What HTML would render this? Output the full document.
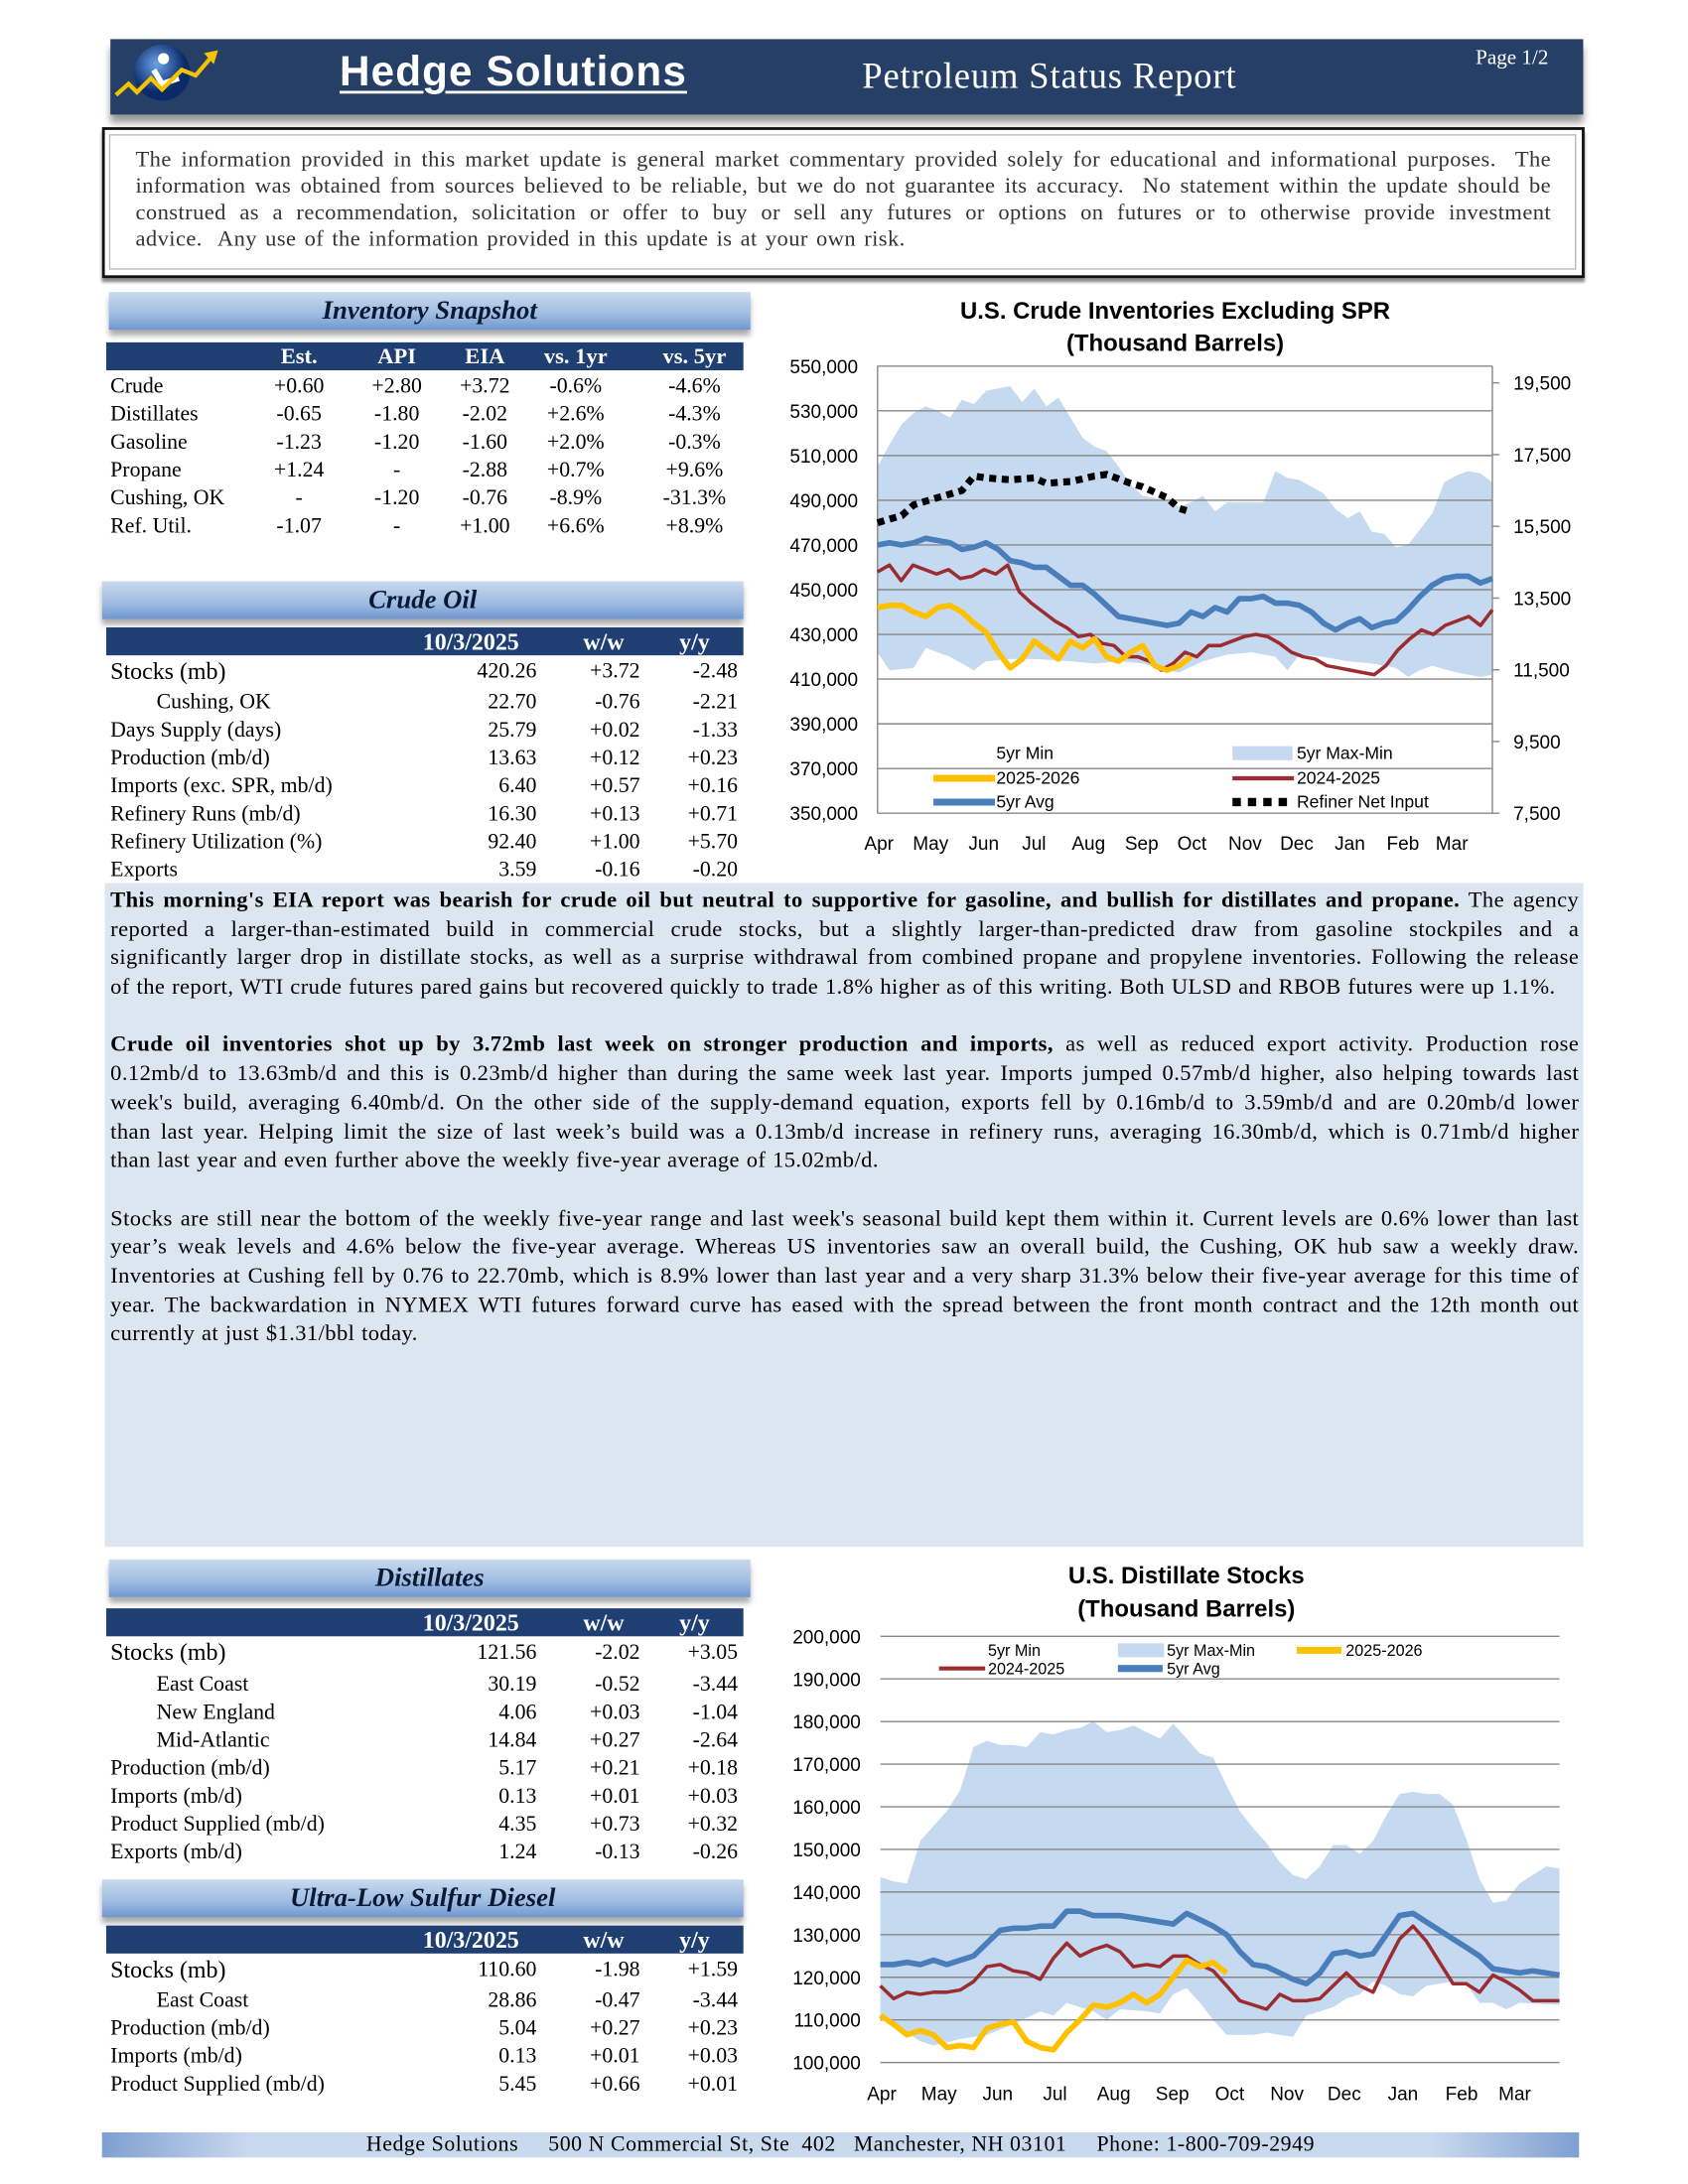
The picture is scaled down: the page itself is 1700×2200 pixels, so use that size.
<!DOCTYPE html>
<html><head><meta charset="utf-8">
<style>
html,body{margin:0;padding:0;background:#fff;width:1700px;height:2200px;overflow:hidden}
#w{position:absolute;left:0;top:0;width:1208px;height:1563px;transform:scale(1.4073,1.4076);transform-origin:0 0;font-family:"Liberation Serif",serif;color:#000}
.a{position:absolute;white-space:nowrap}
.ban{position:absolute;height:27px;background:linear-gradient(#c9d9ee,#9dbbe2 60%,#6f97cf);box-shadow:0 4px 4px #aaa;text-align:center;font-style:italic;font-weight:bold;font-size:19px;line-height:27px;color:#0b1a33}
.th{position:absolute;height:20px;background:#1f3f73;color:#fff;font-weight:bold;font-size:16px;line-height:21px}
.r{position:absolute;font-size:15px;line-height:20px;white-space:nowrap}
.jl{text-align:justify;text-align-last:justify;white-space:nowrap;height:20.7px}
.ll{white-space:nowrap;height:20.7px}
svg text{font-family:"Liberation Sans",sans-serif}
</style></head><body><div id="w">
<div class="a" style="left:79px;top:28px;width:1054px;height:54px;background:#263f66;box-shadow:0 6px 5px #999"></div>
<svg class="a" style="left:80px;top:30px" width="80" height="50"><defs><radialGradient id="lg" cx="40%" cy="35%"><stop offset="0" stop-color="#6aa3e8"/><stop offset="1" stop-color="#0a2a6a"/></radialGradient></defs><circle cx="36" cy="22" r="20" fill="url(#lg)"/><circle cx="37" cy="12" r="4" fill="#fff"/><path d="M30 20 L36 30 L48 26" stroke="#fff" stroke-width="4" fill="none"/><polyline points="3,38 12,30 18,36 28,26 36,34 50,20 60,24 72,10" stroke="#f5c400" stroke-width="3" fill="none"/><polygon points="66,8 76,6 73,16" fill="#f5c400"/></svg>
<div class="a" style="left:243px;top:35px;font-family:'Liberation Sans',sans-serif;font-weight:bold;font-size:30px;letter-spacing:0.8px;color:#fff;text-decoration:underline;text-decoration-thickness:2px;text-underline-offset:4px">Hedge Solutions</div>
<div class="a" style="left:617px;top:40px;font-size:26px;letter-spacing:0.6px;color:#fff">Petroleum Status Report</div>
<div class="a" style="left:1056px;top:34px;font-size:15px;color:#fff">Page 1/2</div>
<div class="a" style="left:73px;top:91px;width:1057px;height:104px;border:2px solid #111;box-shadow:0 3px 2px #888"></div>
<div class="a" style="left:78px;top:96px;width:1048px;height:95px;border:1px solid #bbb"></div>
<div class="a" style="left:97px;top:105px;width:1013px;font-size:16px;letter-spacing:0.3px;word-spacing:1.5px;line-height:19px;color:#333">
<div class="jl" style="height:19px">The information provided in this market update is general market commentary provided solely for educational and informational purposes.&nbsp; The</div>
<div class="jl" style="height:19px">information was obtained from sources believed to be reliable, but we do not guarantee its accuracy.&nbsp; No statement within the update should be</div>
<div class="jl" style="height:19px">construed as a recommendation, solicitation or offer to buy or sell any futures or options on futures or to otherwise provide investment</div>
<div class="ll" style="height:19px">advice.&nbsp; Any use of the information provided in this update is at your own risk.</div>
</div>
<div class="ban" style="left:78px;top:209px;width:459px">Inventory Snapshot</div>
<div class="ban" style="left:73px;top:416px;width:459px">Crude Oil</div>
<div class="ban" style="left:78px;top:1116px;width:459px">Distillates</div>
<div class="ban" style="left:73px;top:1345px;width:459px">Ultra-Low Sulfur Diesel</div>
<div id="tables"></div>
<div class="a" style="left:75px;top:632px;width:1058px;height:475px;background:#dce6f1"></div>
<div class="a" style="left:79px;top:635px;width:1051px;font-size:16px;letter-spacing:0.3px;word-spacing:0.5px;line-height:20.7px">
<div class="jl"><b>This morning's EIA report was bearish for crude oil but neutral to supportive for gasoline, and bullish for distillates and propane.</b> The agency</div>
<div class="jl">reported a larger-than-estimated build in commercial crude stocks, but a slightly larger-than-predicted draw from gasoline stockpiles and a</div>
<div class="jl">significantly larger drop in distillate stocks, as well as a surprise withdrawal from combined propane and propylene inventories. Following the release</div>
<div class="ll">of the report, WTI crude futures pared gains but recovered quickly to trade 1.8% higher as of this writing. Both ULSD and RBOB futures were up 1.1%.</div>
<div class="ll"></div>
<div class="jl"><b>Crude oil inventories shot up by 3.72mb last week on stronger production and imports,</b> as well as reduced export activity. Production rose</div>
<div class="jl">0.12mb/d to 13.63mb/d and this is 0.23mb/d higher than during the same week last year. Imports jumped 0.57mb/d higher, also helping towards last</div>
<div class="jl">week's build, averaging 6.40mb/d. On the other side of the supply-demand equation, exports fell by 0.16mb/d to 3.59mb/d and are 0.20mb/d lower</div>
<div class="jl">than last year. Helping limit the size of last week’s build was a 0.13mb/d increase in refinery runs, averaging 16.30mb/d, which is 0.71mb/d higher</div>
<div class="ll">than last year and even further above the weekly five-year average of 15.02mb/d.</div>
<div class="ll"></div>
<div class="jl">Stocks are still near the bottom of the weekly five-year range and last week's seasonal build kept them within it. Current levels are 0.6% lower than last</div>
<div class="jl">year’s weak levels and 4.6% below the five-year average. Whereas US inventories saw an overall build, the Cushing, OK hub saw a weekly draw.</div>
<div class="jl">Inventories at Cushing fell by 0.76 to 22.70mb, which is 8.9% lower than last year and a very sharp 31.3% below their five-year average for this time of</div>
<div class="jl">year. The backwardation in NYMEX WTI futures forward curve has eased with the spread between the front month contract and the 12th month out</div>
<div class="ll">currently at just $1.31/bbl today.</div>
</div>
<div class="a" style="left:73px;top:1526px;width:1057px;height:18px;background:linear-gradient(90deg,#7f9fd0,#c9d9ee 10%,#c9d9ee 90%,#7f9fd0);"></div>
<div class="a" style="left:73px;top:1525px;width:1057px;text-align:center;font-size:15.5px;letter-spacing:0.4px;line-height:20px">Hedge Solutions&nbsp;&nbsp;&nbsp;&nbsp; 500 N Commercial St, Ste&nbsp; 402&nbsp;&nbsp; Manchester, NH 03101&nbsp;&nbsp;&nbsp;&nbsp; Phone: 1-800-709-2949</div>
<svg id="c1" class="a" style="left:540px;top:200px" width="610" height="420"></svg>
<svg id="c2" class="a" style="left:540px;top:1110px" width="610" height="410"></svg>
</div>
<script>
var T=document.getElementById('tables'),h='';
function cell(x,y,t,al,w,cls,st){w=w||70;var l=al=='c'?x-w/2:(al=='r'?x-w:x);h+='<div class="'+(cls||'r')+'" style="left:'+l+'px;top:'+y+'px;width:'+w+'px;text-align:'+(al=='c'?'center':al=='r'?'right':'left')+';'+(st||'')+'">'+t+'</div>';}
h+='<div class="th" style="left:76px;top:245px;width:456px"></div>';
var sc=[214,284,347,412,497];['Est.','API','EIA','vs. 1yr','vs. 5yr'].forEach(function(t,i){cell(sc[i],245,t,'c',80,'r','color:#fff;font-weight:bold;font-size:16px;line-height:21px');});
var sr=[['Crude','+0.60','+2.80','+3.72','-0.6%','-4.6%'],['Distillates','-0.65','-1.80','-2.02','+2.6%','-4.3%'],['Gasoline','-1.23','-1.20','-1.60','+2.0%','-0.3%'],['Propane','+1.24','-','-2.88','+0.7%','+9.6%'],['Cushing, OK','-','-1.20','-0.76','-8.9%','-31.3%'],['Ref. Util.','-1.07','-','+1.00','+6.6%','+8.9%']];
sr.forEach(function(r,j){var y=267+j*20;cell(79,y,r[0],'l',120,'r','font-size:15.5px');for(var i=0;i<5;i++)cell(sc[i],y,r[i+1],'c',80,'r','font-size:15.5px');});
function tbl(y0,rows,ys){h+='<div class="th" style="left:76px;top:'+y0+'px;width:456px"></div>';
cell(337,y0,'10/3/2025','c',100,'r','color:#fff;font-weight:bold;font-size:17px;line-height:21px');cell(432,y0,'w/w','c',60,'r','color:#fff;font-weight:bold;font-size:17px;line-height:21px');cell(497,y0,'y/y','c',60,'r','color:#fff;font-weight:bold;font-size:17px;line-height:21px');
rows.forEach(function(r,j){var y=ys[j]-10,big=j==0,st=big?'font-size:17px':'font-size:15.5px';cell(r[4]?112:79,y,r[0],'l',220,'r',st);cell(384,y,r[1],'r',80,'r','font-size:15.5px');cell(458,y,r[2],'r',60,'r','font-size:15.5px');cell(528,y,r[3],'r',60,'r','font-size:15.5px');});}
tbl(449,[['Stocks (mb)','420.26','+3.72','-2.48'],['Cushing, OK','22.70','-0.76','-2.21',1],['Days Supply (days)','25.79','+0.02','-1.33'],['Production (mb/d)','13.63','+0.12','+0.23'],['Imports (exc. SPR, mb/d)','6.40','+0.57','+0.16'],['Refinery Runs (mb/d)','16.30','+0.13','+0.71'],['Refinery Utilization (%)','92.40','+1.00','+5.70'],['Exports','3.59','-0.16','-0.20']],[481,503,523,543,563,583,603,623]);
tbl(1151,[['Stocks (mb)','121.56','-2.02','+3.05'],['East Coast','30.19','-0.52','-3.44',1],['New England','4.06','+0.03','-1.04',1],['Mid-Atlantic','14.84','+0.27','-2.64',1],['Production (mb/d)','5.17','+0.21','+0.18'],['Imports (mb/d)','0.13','+0.01','+0.03'],['Product Supplied (mb/d)','4.35','+0.73','+0.32'],['Exports (mb/d)','1.24','-0.13','-0.26']],[1183,1206,1226,1246,1266,1286,1306,1326]);
tbl(1378,[['Stocks (mb)','110.60','-1.98','+1.59'],['East Coast','28.86','-0.47','-3.44',1],['Production (mb/d)','5.04','+0.27','+0.23'],['Imports (mb/d)','0.13','+0.01','+0.03'],['Product Supplied (mb/d)','5.45','+0.66','+0.01']],[1410,1432,1452,1472,1492]);
T.innerHTML=h;

function interp(pts,n){var o=[];for(var i=0;i<n;i++){for(var k=0;k<pts.length-1;k++){if(i>=pts[k][0]&&i<=pts[k+1][0]){var f=(i-pts[k][0])/((pts[k+1][0]-pts[k][0])||1);o.push(pts[k][1]+f*(pts[k+1][1]-pts[k][1]));break;}}if(o.length<i+1)o.push(pts[pts.length-1][1]);}return o;}
function pl(xs,ys){return xs.map(function(x,i){return x.toFixed(1)+','+ys[i].toFixed(1)}).join(' ');}

(function(){var s='',ox=540,oy=200,L=628-ox,R=1068-ox,Tp=262-oy,B=582-oy;
function Y(v){return B-(v-350000)/200000*320;}function YR(v){return B-(v-7500)/12000*308;}function X(i){return L+i*(R-L)/51;}
s+='<text x="301" y="28" text-anchor="middle" font-size="17" font-weight="bold">U.S. Crude Inventories Excluding SPR</text><text x="301" y="51" text-anchor="middle" font-size="17" font-weight="bold">(Thousand Barrels)</text>';
var mx=[505,515,524,529,532,530,527,535,533,539,540,541,534,540,532,536,527,518,514,512,505,497,492,491,490,487,489,492,485,489,489,489,489,503,500,499,496,493,486,482,485,476,475,469,470,477,484,498,501,503,502,498];
var mn=interp([[0,422],[1,414],[3,415],[4,424],[6,420],[8,414],[9,418],[11,419],[13,419],[16,418],[18,417],[20,418],[22,417],[24,414],[25,413],[27,418],[29,421],[31,422],[33,420],[34,414],[35,421],[37,420],[39,418],[41,417],[43,415],[44,411],[45,414],[46,416],[48,413],[50,411],[51,412]],52);
var xs=[],i;for(i=0;i<52;i++)xs.push(X(i));
var top=mx.map(function(v){return Y(v*1000)}),bot=mn.map(function(v){return Y(v*1000)});
s+='<polygon fill="#c5d9f1" points="'+pl(xs,top)+' '+pl(xs.slice().reverse(),bot.slice().reverse())+'"/>';
for(var g=0;g<=10;g++){var v=350000+g*20000,y=Y(v);s+='<line x1="'+L+'" x2="'+R+'" y1="'+y+'" y2="'+y+'" stroke="#888" stroke-width="1"/><text x="'+(614-ox)+'" y="'+(y+5)+'" text-anchor="end" font-size="13.5">'+v.toLocaleString('en-US')+'</text>';}
s+='<line x1="'+L+'" x2="'+L+'" y1="'+Tp+'" y2="'+B+'" stroke="#888"/><line x1="'+R+'" x2="'+R+'" y1="'+Tp+'" y2="'+B+'" stroke="#888"/>';
[19500,17500,15500,13500,11500,9500,7500].forEach(function(v){var y=YR(v);s+='<line x1="'+R+'" x2="'+(R+5)+'" y1="'+y+'" y2="'+y+'" stroke="#888"/><text x="'+(1083-ox)+'" y="'+(y+5)+'" font-size="13.5">'+v.toLocaleString('en-US')+'</text>';});
var avg=[470,471,470,471,473,472,471,468,469,471,468,463,462,460,460,456,452,452,448,443,438,437,436,435,434,435,440,438,442,440,446,446,447,444,444,443,440,435,432,435,437,433,435,436,441,447,452,455,456,456,453,455];
var y24=[458,461,454,461,459,457,459,455,456,459,457,461,449,444,440,436,433,429,430,426,425,420,420,418,414,417,422,420,425,425,427,429,430,429,426,422,420,419,416,415,414,413,412,416,423,428,432,430,434,436,438,434,441];
var y25=[442,443,443,440,438,442,443,440,435,431,422,415,419,427,423,419,427,424,428,420,418,422,425,416,414,416,420];
function line(arr,col,w,X2){var xx=[],yy=[];arr.forEach(function(v,i){xx.push(X2?X2(i):X(i));yy.push(Y(v*1000));});return '<polyline fill="none" stroke="'+col+'" stroke-width="'+w+'" stroke-linejoin="round" points="'+pl(xx,yy)+'"/>';}
s+=line(avg,'#4a7ebb',4);s+=line(y24,'#9b2d30',2.5,function(i){return L+i*(R-L)/52;});s+=line(y25,'#ffc000',4);
var rn=interp([[0,15600],[2,15800],[3,16100],[5,16300],[7,16500],[8,16900],[9,16850],[11,16800],[13,16850],[14,16700],[16,16750],[18,16900],[19,16950],[21,16700],[22,16600],[24,16300],[25,16000],[26,15900]],27);
s+='<polyline fill="none" stroke="#000" stroke-width="5" stroke-dasharray="5 4" points="'+pl(rn.map(function(v,i){return X(i)}),rn.map(YR))+'"/>';
['Apr','May','Jun','Jul','Aug','Sep','Oct','Nov','Dec','Jan','Feb','Mar'].forEach(function(m,k){var xc=[629,666,704,740,779,817,853,891,928,966,1004,1039][k]-ox;s+='<text x="'+xc+'" y="'+(608-oy)+'" text-anchor="middle" font-size="13.5">'+m+'</text>';});
var lx1=668-ox,lx2=882-ox;
s+='<text x="'+(713-ox)+'" y="'+(543-oy)+'" font-size="12.5">5yr Min</text><rect x="'+lx2+'" y="'+(534-oy)+'" width="43" height="10" fill="#c5d9f1"/><text x="'+(928-ox)+'" y="'+(543-oy)+'" font-size="12.5">5yr Max-Min</text>';
s+='<line x1="'+lx1+'" x2="'+(lx1+44)+'" y1="'+(557-oy)+'" y2="'+(557-oy)+'" stroke="#ffc000" stroke-width="5"/><text x="'+(713-ox)+'" y="'+(561-oy)+'" font-size="12.5">2025-2026</text>';
s+='<line x1="'+lx2+'" x2="'+(lx2+44)+'" y1="'+(557-oy)+'" y2="'+(557-oy)+'" stroke="#9b2d30" stroke-width="3"/><text x="'+(928-ox)+'" y="'+(561-oy)+'" font-size="12.5">2024-2025</text>';
s+='<line x1="'+lx1+'" x2="'+(lx1+44)+'" y1="'+(574-oy)+'" y2="'+(574-oy)+'" stroke="#4a7ebb" stroke-width="5"/><text x="'+(713-ox)+'" y="'+(578-oy)+'" font-size="12.5">5yr Avg</text>';
s+='<line x1="'+lx2+'" x2="'+(lx2+44)+'" y1="'+(574-oy)+'" y2="'+(574-oy)+'" stroke="#000" stroke-width="6" stroke-dasharray="6 5"/><text x="'+(928-ox)+'" y="'+(578-oy)+'" font-size="12.5">Refiner Net Input</text>';
document.getElementById('c1').innerHTML=s;})();

(function(){var s='',ox=540,oy=1110,L=630-ox,R=1116-ox,Tp=1171-oy,B=1476-oy;
function Y(v){return B-(v-100)/100*305;}function X(i){return L+i*(R-L)/51;}
s+='<text x="309" y="23" text-anchor="middle" font-size="17" font-weight="bold">U.S. Distillate Stocks</text><text x="309" y="47" text-anchor="middle" font-size="17" font-weight="bold">(Thousand Barrels)</text>';
var mx=[143.5,142.5,142,152,155.5,159,164,174,175.5,174.5,174.5,174,177.5,177,178,178.5,180,177.5,178,179,177.5,176,179.5,176,172.5,171.5,165,159,155,151.5,147,144,143,146,151,151,149,152,158,163,163.5,163,163,160.5,152.5,143,137.5,138,142,144,146,145.5];
var mn=interp([[0,111],[3,105],[4,104],[6,105.5],[8,106.5],[10,109],[12,112],[13,111],[14,114],[15,113],[16,112],[17,110],[18,112.5],[20,112],[21,111.5],[22,116],[23,117.5],[24,114],[25,110],[26,106.5],[28,106.5],[29,107],[31,106],[32,111],[34,113],[35,115],[36,116],[37,119],[38,118],[39,116],[40,115.5],[41,118],[43,119],[44,118.5],[45,114],[46,114],[47,112.5],[48,114],[51,113.5]],52);
var xs=[],i;for(i=0;i<52;i++)xs.push(X(i));
s+='<polygon fill="#c5d9f1" points="'+pl(xs,mx.map(Y))+' '+pl(xs.slice().reverse(),mn.map(Y).reverse())+'"/>';
for(var g=0;g<=10;g++){var v=100+g*10,y=Y(v);s+='<line x1="'+L+'" x2="'+R+'" y1="'+y+'" y2="'+y+'" stroke="#888"/><text x="'+(616-ox)+'" y="'+(y+5)+'" text-anchor="end" font-size="13.5">'+(v*1000).toLocaleString('en-US')+'</text>';}
var avg=[123,123,123.5,123,124,123,124,125,128,131,131.5,131.5,132,132,135.5,135.5,134.5,134.5,134.5,134,133.5,133,132.5,135,133.5,132,130,126,123,122.5,121,119.5,118.5,121,125.5,126,125,125.5,130,134.5,135,133,131,129,127,125,122,121.5,121,121.5,121,120.5];
var y24=[118,115,116.5,116,116.5,116.5,117,119,122.5,123,121.5,121,119.5,124.5,128,125,126.5,127.5,126,122.5,123,122.5,125,125,123,121.5,118,114.5,113.5,112.5,116,114.5,114.5,115,118,121,118,116.5,123,129,132,128.5,123.5,118.5,118.5,116.5,120.5,119,117,114.5,114.5,114.5];
var y25=[111,109,106.5,107.5,106.5,103.5,104,103.5,108,109,109.5,105,103.5,103,107,110,113.5,113,114,116,114,116,120,124,122.5,123.5,121];
function line(arr,col,w){return '<polyline fill="none" stroke="'+col+'" stroke-width="'+w+'" stroke-linejoin="round" points="'+pl(arr.map(function(v,i){return X(i)}),arr.map(Y))+'"/>';}
s+=line(avg,'#4a7ebb',4);s+=line(y24,'#9b2d30',2.5);s+=line(y25,'#ffc000',4);
['Apr','May','Jun','Jul','Aug','Sep','Oct','Nov','Dec','Jan','Feb','Mar'].forEach(function(m,k){var xc=[631,672,714,755,797,839,880,921,962,1004,1046,1084][k]-ox;s+='<text x="'+xc+'" y="'+(1503-oy)+'" text-anchor="middle" font-size="13.5">'+m+'</text>';});
s+='<text x="'+(707-ox)+'" y="'+(1185-oy)+'" font-size="11.5">5yr Min</text><rect x="'+(800-ox)+'" y="'+(1176-oy)+'" width="33" height="10" fill="#c5d9f1"/><text x="'+(835-ox)+'" y="'+(1185-oy)+'" font-size="11.5">5yr Max-Min</text>';
s+='<line x1="'+(928-ox)+'" x2="'+(960-ox)+'" y1="'+(1181-oy)+'" y2="'+(1181-oy)+'" stroke="#ffc000" stroke-width="5"/><text x="'+(963-ox)+'" y="'+(1185-oy)+'" font-size="11.5">2025-2026</text>';
s+='<line x1="'+(672-ox)+'" x2="'+(705-ox)+'" y1="'+(1194-oy)+'" y2="'+(1194-oy)+'" stroke="#9b2d30" stroke-width="3"/><text x="'+(707-ox)+'" y="'+(1198-oy)+'" font-size="11.5">2024-2025</text>';
s+='<line x1="'+(800-ox)+'" x2="'+(832-ox)+'" y1="'+(1194-oy)+'" y2="'+(1194-oy)+'" stroke="#4a7ebb" stroke-width="5"/><text x="'+(835-ox)+'" y="'+(1198-oy)+'" font-size="11.5">5yr Avg</text>';
document.getElementById('c2').innerHTML=s;})();
</script>
</body></html>
